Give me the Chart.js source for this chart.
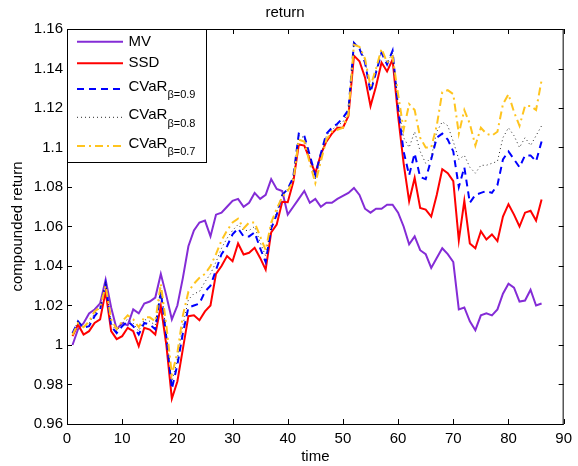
<!DOCTYPE html>
<html>
<head>
<meta charset="utf-8">
<script src="https://cdn.jsdelivr.net/npm/chart.js@4/dist/chart.umd.min.js"></script>
<style>
html,body{margin:0;padding:0;background:#fff;}
#wrap{width:578px;height:466px;position:relative;}
</style>
</head>
<body>
<div id="wrap"><canvas id="c"></canvas></div>
<script>
// ---- data ----
const time = [1,2,3,4,5,6,7,8,9,10,11,12,13,14,15,16,17,18,19,20,21,22,23,24,25,26,27,28,29,30,31,32,33,34,35,36,37,38,39,40,41,42,43,44,45,46,47,48,49,50,51,52,53,54,55,56,57,58,59,60,61,62,63,64,65,66,67,68,69,70,71,72,73,74,75,76,77,78,79,80,81,82,83,84,85,86];
const mv = [1.000,1.008,1.011,1.016,1.018,1.021,1.033,1.019,1.008,1.011,1.010,1.018,1.016,1.021,1.022,1.024,1.036,1.025,1.013,1.020,1.034,1.050,1.058,1.062,1.063,1.055,1.066,1.067,1.070,1.073,1.074,1.070,1.072,1.077,1.074,1.076,1.084,1.079,1.078,1.066,1.070,1.074,1.078,1.072,1.074,1.070,1.072,1.072,1.074,1.0755,1.077,1.0795,1.076,1.069,1.067,1.069,1.069,1.071,1.071,1.067,1.060,1.051,1.055,1.048,1.046,1.039,1.044,1.049,1.046,1.042,1.018,1.019,1.012,1.0075,1.015,1.016,1.015,1.018,1.026,1.031,1.029,1.022,1.0225,1.028,1.020,1.021];
const ssd = [1.0045,1.0104,1.0053,1.007,1.0112,1.013,1.027,1.007,1.003,1.0045,1.0087,1.007,0.9994,1.0087,1.0078,1.0053,1.0197,1.000,0.9728,0.9815,0.998,1.0146,1.015,1.0125,1.017,1.020,1.036,1.040,1.045,1.0424,1.0514,1.0458,1.0467,1.0492,1.0441,1.0382,1.057,1.061,1.0725,1.0723,1.0825,1.1015,1.101,1.094,1.087,1.0965,1.103,1.107,1.110,1.110,1.116,1.1465,1.1437,1.1355,1.121,1.131,1.143,1.1385,1.1445,1.116,1.092,1.0728,1.0846,1.0694,1.0686,1.065,1.076,1.089,1.087,1.083,1.053,1.073,1.0514,1.049,1.0576,1.0534,1.056,1.0526,1.065,1.0713,1.066,1.060,1.067,1.068,1.063,1.0737];
const cvar09 = [1.006,1.012,1.0087,1.0095,1.0146,1.018,1.031,1.0095,1.006,1.0095,1.012,1.0095,1.0053,1.0112,1.0104,1.008,1.0273,1.004,0.9778,0.990,1.006,1.019,1.020,1.021,1.027,1.030,1.038,1.046,1.050,1.056,1.059,1.055,1.055,1.057,1.049,1.042,1.059,1.066,1.076,1.079,1.085,1.107,1.106,1.096,1.086,1.097,1.107,1.110,1.112,1.115,1.119,1.153,1.150,1.143,1.128,1.138,1.148,1.142,1.149,1.120,1.098,1.086,1.097,1.085,1.084,1.094,1.105,1.107,1.104,1.098,1.080,1.090,1.072,1.076,1.077,1.078,1.077,1.081,1.094,1.098,1.094,1.090,1.096,1.096,1.093,1.103];
const cvar08 = [1.006,1.012,1.009,1.011,1.016,1.019,1.032,1.011,1.007,1.011,1.013,1.011,1.007,1.013,1.012,1.010,1.029,1.006,0.981,0.993,1.010,1.023,1.026,1.027,1.032,1.036,1.042,1.049,1.054,1.058,1.061,1.058,1.058,1.060,1.052,1.045,1.061,1.067,1.076,1.079,1.085,1.106,1.105,1.094,1.084,1.095,1.106,1.109,1.111,1.113,1.118,1.153,1.151,1.144,1.129,1.139,1.149,1.143,1.148,1.122,1.105,1.100,1.108,1.098,1.092,1.095,1.108,1.113,1.111,1.103,1.094,1.096,1.090,1.087,1.091,1.091,1.092,1.093,1.105,1.110,1.106,1.100,1.105,1.101,1.106,1.111];
const cvar07 = [1.005,1.011,1.009,1.012,1.017,1.019,1.030,1.013,1.008,1.012,1.015,1.013,1.009,1.014,1.014,1.012,1.031,1.010,0.985,0.996,1.015,1.027,1.031,1.034,1.036,1.040,1.046,1.053,1.058,1.062,1.064,1.059,1.062,1.062,1.055,1.048,1.062,1.069,1.075,1.078,1.083,1.104,1.103,1.092,1.082,1.093,1.104,1.108,1.109,1.110,1.117,1.152,1.151,1.145,1.131,1.140,1.150,1.143,1.146,1.127,1.109,1.122,1.119,1.105,1.100,1.100,1.111,1.128,1.129,1.127,1.107,1.119,1.112,1.101,1.110,1.107,1.106,1.108,1.122,1.127,1.118,1.111,1.121,1.121,1.119,1.134];
const xTicks = [0,10,20,30,40,50,60,70,80,90];
const yTicks = [0.96,0.98,1.00,1.02,1.04,1.06,1.08,1.10,1.12,1.14,1.16];
const legendNames = ['MV','SSD','CVaR','CVaR','CVaR'];
const legendSubs = [null,null,'β=0.9','β=0.8','β=0.7'];
const titleText = 'return';
const xTitle = 'time';
const yTitle = 'compounded return';

const FONT = '"Liberation Sans", Arial, Helvetica, sans-serif';
const pts = arr => arr.map((v,i)=>({x: time[i], y: v}));

const frame = {
  id: 'frame',
  afterDraw(chart) {
    const {ctx, chartArea: a, scales: {x, y}} = chart;
    ctx.save();
    ctx.strokeStyle = '#000';
    ctx.lineWidth = 1;
    ctx.setLineDash([]);
    ctx.beginPath();
    xTicks.forEach(v => {
      const px = Math.round(x.getPixelForValue(v)) + 0.5;
      ctx.moveTo(px, a.bottom); ctx.lineTo(px, a.bottom - 5);
      ctx.moveTo(px, a.top); ctx.lineTo(px, a.top + 5);
    });
    yTicks.forEach(v => {
      const py = Math.round(y.getPixelForValue(v)) + 0.5;
      ctx.moveTo(a.left, py); ctx.lineTo(a.left + 5, py);
      ctx.moveTo(a.right, py); ctx.lineTo(a.right - 5, py);
    });
    ctx.stroke();
    ctx.strokeRect(a.left + 0.5, a.top + 0.5, a.right - a.left - 1, a.bottom - a.top);

    // legend box
    const bx = a.left + 0.5, by = a.top + 0.5, bw = 139, bh = 133;
    ctx.fillStyle = '#fff';
    ctx.fillRect(bx, by, bw, bh);
    ctx.strokeRect(bx, by, bw, bh);
    const lineY = [41.7, 63.3, 89, 117.3, 146];
    const textY = [41.7, 63.3, 86.5, 115, 143.5];
    const subY = [0, 0, 95, 123.5, 152];
    chart.data.datasets.forEach((ds, i) => {
      ctx.save();
      ctx.strokeStyle = ds.borderColor;
      ctx.lineWidth = ds.borderWidth;
      ctx.setLineDash(ds.borderDash || []);
      ctx.beginPath();
      ctx.moveTo(77, lineY[i]); ctx.lineTo(123, lineY[i]);
      ctx.stroke();
      ctx.restore();
      ctx.fillStyle = '#000';
      ctx.textBaseline = 'middle';
      ctx.textAlign = 'left';
      ctx.font = '15px ' + FONT;
      ctx.fillText(legendNames[i], 128.5, textY[i]);
      if (legendSubs[i]) {
        const w = ctx.measureText(legendNames[i]).width;
        ctx.font = '11px ' + FONT;
        ctx.fillText(legendSubs[i], 128.5 + w, subY[i]);
      }
    });
    ctx.restore();
  }
};

new Chart(document.getElementById('c'), {
  type: 'line',
  data: {
    datasets: [
      {label:'MV', data: pts(mv), borderColor:'rgb(132,44,214)', borderWidth:2, order:5},
      {label:'SSD', data: pts(ssd), borderColor:'rgb(255,0,0)', borderWidth:2, order:4},
      {label:'CVaR β=0.9', data: pts(cvar09), borderColor:'rgb(0,0,255)', borderWidth:2, borderDash:[7,5], order:3},
      {label:'CVaR β=0.8', data: pts(cvar08), borderColor:'rgb(40,40,40)', borderWidth:1, borderDash:[1,3], order:2},
      {label:'CVaR β=0.7', data: pts(cvar07), borderColor:'rgb(255,196,30)', borderWidth:2, borderDash:[8,4,2,4], order:1}
    ]
  },
  options: {
    responsive: true,
    maintainAspectRatio: false,
    animation: false,
    devicePixelRatio: 1,
    layout: {padding: {top: 0, right: 8, left: 0, bottom: 0}},
    elements: {point: {radius: 0}, line: {tension: 0, fill: false}},
    plugins: {
      legend: {display: false},
      tooltip: {enabled: false},
      title: {display: true, text: titleText, color:'#000',
        font: {family: FONT, size: 15, weight: 'normal'}, padding: {top: 4, bottom: 7}}
    },
    scales: {
      x: {
        type: 'linear', min: 0, max: 90,
        afterBuildTicks: s => { s.ticks = xTicks.map(v => ({value: v})); },
        afterFit: s => { s.height = 42; },
        grid: {display: false, drawTicks: false},
        border: {display: false},
        ticks: {color:'#000', font: {family: FONT, size: 15}, padding: 6, maxRotation: 0, autoSkip: false,
          callback: v => String(v)},
        title: {display: true, text: xTitle, color:'#000', font: {family: FONT, size: 15}, padding: {top: 0, bottom: 0}}
      },
      y: {
        type: 'linear', min: 0.96, max: 1.16,
        afterBuildTicks: s => { s.ticks = yTicks.map(v => ({value: v})); },
        afterFit: s => { s.width = 67; },
        grid: {display: false, drawTicks: false},
        border: {display: false},
        ticks: {color:'#000', font: {family: FONT, size: 15}, padding: 4, autoSkip: false,
          callback: v => String(Number(v.toFixed(2)))},
        title: {display: true, text: yTitle, color:'#000', font: {family: FONT, size: 15}, padding: {top: 9, bottom: 0}}
      }
    }
  },
  plugins: [frame]
});
</script>
</body>
</html>
